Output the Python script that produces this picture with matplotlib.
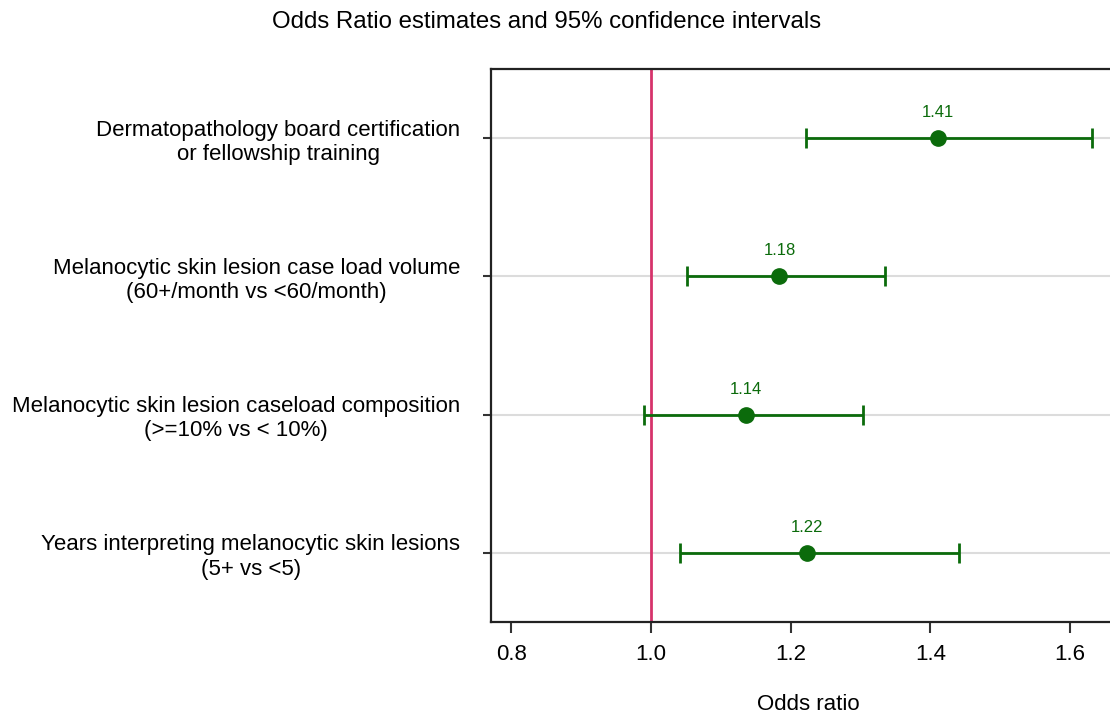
import matplotlib.pyplot as plt
import numpy as np

plt.rcParams['font.family'] = ['Liberation Sans', 'DejaVu Sans']

# Дані: змінні, оцінки OR та 95% довірчі інтервали
labels = ['Dermatopathology board certification\nor fellowship training',
          'Melanocytic skin lesion case load volume\n(60+/month vs <60/month)',
          'Melanocytic skin lesion caseload composition\n(>=10% vs < 10%)',
          'Years interpreting melanocytic skin lesions\n(5+ vs <5)']
odds = np.array([1.41, 1.18, 1.14, 1.22])
odds_plot = np.array([1.411, 1.184, 1.136, 1.224])
ci_low = np.array([1.222, 1.051, 0.990, 1.042])
ci_high = np.array([1.632, 1.335, 1.304, 1.441])
xticks = [0.8, 1.0, 1.2, 1.4, 1.6]

green = '#0b6b0b'
fig = plt.figure(figsize=(11.1, 7.17), dpi=100)
ax = fig.add_axes([0.4423, 0.1325, 0.5721, 0.7713])

pos = np.arange(1, len(labels) + 1)
for y in pos:
    ax.axhline(y, color='#dcdcdc', lw=1.5, zorder=0)
ax.axvline(1.0, color='#d6336b', lw=2, zorder=1)

ax.errorbar(odds_plot, pos, xerr=[odds_plot - ci_low, ci_high - odds_plot],
            fmt='o', color=green, ms=11, lw=2, capsize=7, capthick=2, zorder=3)
for x, y, v in zip(odds_plot, pos, odds):
    ax.text(x, y - 0.13, f'{v:.2f}', color=green, fontsize=12,
            ha='center', va='bottom')

ax.set_ylim(len(labels) + 0.5, 0.5)
ax.set_xlim(0.771, 1.68)
ax.set_yticks(pos)
ax.set_yticklabels(labels, fontsize=16, ha='right', multialignment='center',
                   linespacing=1.2)
ax.set_xticks(xticks)
ax.set_xticklabels([f'{t:.1f}' for t in xticks], fontsize=16)
ax.tick_params(axis='x', length=8, width=1.5, color='#333333', pad=8)
ax.tick_params(axis='y', length=6, width=1.5, color='#333333', pad=16)
for s in ['left', 'bottom', 'top', 'right']:
    ax.spines[s].set_linewidth(1.6)
    ax.spines[s].set_color('#222222')

ax.set_xlabel('Odds ratio', fontsize=16, labelpad=21)
fig.text(0.492, 0.970, 'Odds Ratio estimates and 95% confidence intervals',
         fontsize=17.3, ha='center', va='center')

plt.savefig('out.png', dpi=100)
